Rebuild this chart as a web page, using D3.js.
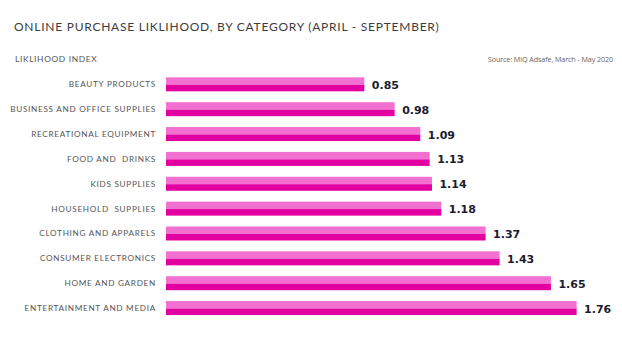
<!DOCTYPE html>
<html><head><meta charset="utf-8">
<script src="https://cdn.jsdelivr.net/npm/d3@7"></script>
<style>body{margin:0;background:#fff}svg{display:block}</style>
</head><body><svg id="c" width="622" height="342"></svg>
<script>
const categories = ["BEAUTY PRODUCTS","BUSINESS AND OFFICE SUPPLIES","RECREATIONAL EQUIPMENT","FOOD AND  DRINKS","KIDS SUPPLIES","HOUSEHOLD  SUPPLIES","CLOTHING AND APPARELS","CONSUMER ELECTRONICS","HOME AND GARDEN","ENTERTAINMENT AND MEDIA"];
const values = [0.85,0.98,1.09,1.13,1.14,1.18,1.37,1.43,1.65,1.76];
const title = "ONLINE PURCHASE LIKLIHOOD, BY CATEGORY (APRIL - SEPTEMBER)";
const axisTitle = "LIKLIHOOD INDEX";
const source = "Source: MiQ Adsafe, March - May 2020";

const svg = d3.select("#c");
const x = d3.scaleLinear().domain([0,2]).range([166, 632.6]);
const y = d3.scaleBand().domain(categories).range([71.9, 320.5]).paddingInner(0.437).paddingOuter(0.2185);

svg.append("text").attr("x",14).attr("y",30.5).text(title)
  .attr("font-family","Lato").attr("font-size",12).attr("letter-spacing",0.75).attr("fill","#3d3d3d");
svg.append("text").attr("x",15).attr("y",62.3).text(axisTitle)
  .attr("font-family","Lato").attr("font-size",8.4).attr("letter-spacing",0.65).attr("fill","#555");
svg.append("text").attr("x",613).attr("y",61.5).attr("text-anchor","end").text(source)
  .attr("font-family","'Open Sans'").attr("font-size",7.2).attr("letter-spacing",-0.1).attr("fill","#666");

const g = svg.append("g");
const bh = y.bandwidth();
const row = g.selectAll("g.row").data(categories.map((c,i)=>({c, v: values[i]}))).join("g").attr("class","row");
row.append("rect").attr("x",x(0)).attr("y",d=>y(d.c)).attr("width",d=>x(d.v)-x(0)).attr("height",bh*0.53).attr("fill","#f271d0");
row.append("rect").attr("x",x(0)).attr("y",d=>y(d.c)+bh*0.53).attr("width",d=>x(d.v)-x(0)).attr("height",bh*0.47).attr("fill","#e300a1");
row.append("text").attr("x",156).attr("y",d=>y(d.c)+bh/2+3).attr("text-anchor","end").text(d=>d.c)
  .attr("font-family","Lato").attr("font-size",8.2).attr("letter-spacing",0.7).attr("fill","#555").style("white-space","pre");
row.append("text").attr("x",d=>x(d.v)+7.5).attr("y",d=>y(d.c)+bh/2+4.5).text(d=>d3.format(".2f")(d.v))
  .attr("font-family","'DejaVu Sans'").attr("font-weight","bold").attr("font-size",11).attr("fill","#1c1c30");
</script></body></html>
